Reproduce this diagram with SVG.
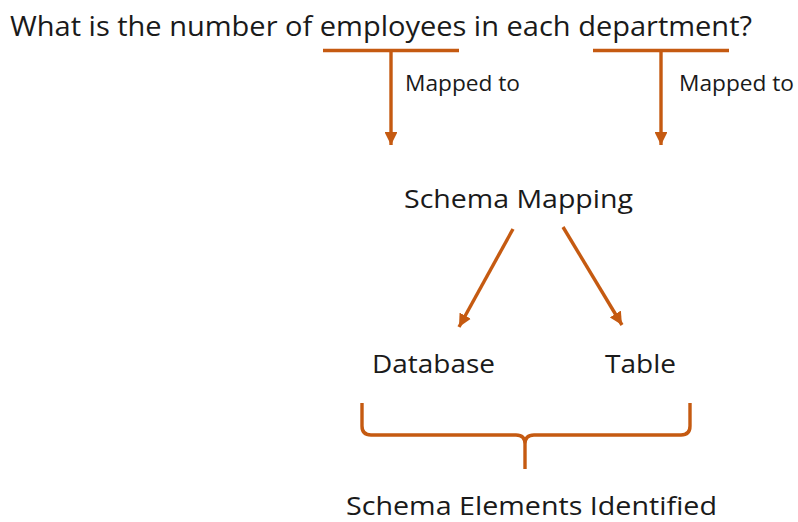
<svg xmlns="http://www.w3.org/2000/svg" width="798" height="522" viewBox="0 0 798 522">
  <defs>
    <style>
      .t { font-family: "Open Sans", "Noto Sans", sans-serif; fill: #1a1a1a; }
      .ln { stroke: #C55A11; stroke-width: 3.4; fill: none; }
    </style>
    <marker id="ah" viewBox="0 0 10 10" refX="10" refY="5" markerWidth="3.8" markerHeight="3.8" orient="auto" markerUnits="strokeWidth">
      <path d="M0,0 L10,5 L0,10 z" fill="#C55A11"/>
    </marker>
  </defs>
  <rect width="798" height="522" fill="#ffffff"/>

  <g id="question">
    <text class="t" x="10" y="36" font-size="28" textLength="742" lengthAdjust="spacingAndGlyphs">What is the number of employees in each department?</text>
  </g>

  <g id="label-mapped-1">
    <text class="t" x="405" y="91" font-size="22" textLength="115" lengthAdjust="spacingAndGlyphs">Mapped to</text>
  </g>
  <g id="label-mapped-2">
    <text class="t" x="679" y="91" font-size="22" textLength="115" lengthAdjust="spacingAndGlyphs">Mapped to</text>
  </g>

  <g id="schema-mapping">
    <text class="t" x="404" y="208" font-size="25" textLength="229" lengthAdjust="spacingAndGlyphs">Schema Mapping</text>
  </g>

  <g id="database">
    <text class="t" x="372" y="373" font-size="25" textLength="123" lengthAdjust="spacingAndGlyphs">Database</text>
  </g>

  <g id="table">
    <text class="t" x="605" y="373" font-size="25" textLength="71" lengthAdjust="spacingAndGlyphs">Table</text>
  </g>

  <g id="schema-elements">
    <text class="t" x="346" y="515" font-size="25.5" textLength="371" lengthAdjust="spacingAndGlyphs">Schema Elements Identified</text>
  </g>

  <g id="connectors">
    <!-- underlines under the two key words -->
    <line class="ln" x1="323" y1="50.5" x2="459" y2="50.5"/>
    <line class="ln" x1="593" y1="50.5" x2="729" y2="50.5"/>
    <!-- vertical mapping arrows -->
    <line class="ln" x1="391" y1="50.5" x2="391" y2="145" marker-end="url(#ah)"/>
    <line class="ln" x1="661" y1="50.5" x2="661" y2="145" marker-end="url(#ah)"/>
    <!-- split arrows -->
    <line class="ln" x1="513" y1="229" x2="459" y2="327" marker-end="url(#ah)"/>
    <line class="ln" x1="563" y1="227" x2="622" y2="325" marker-end="url(#ah)"/>
    <!-- grouping brace -->
    <path class="ln" stroke-width="3" d="M362,403 L362,426 Q362,435 371,435 L516,435 Q525,435 525,444 L525,469 M525,444 Q525,435 534,435 L681,435 Q690,435 690,426 L690,403"/>
  </g>
</svg>
